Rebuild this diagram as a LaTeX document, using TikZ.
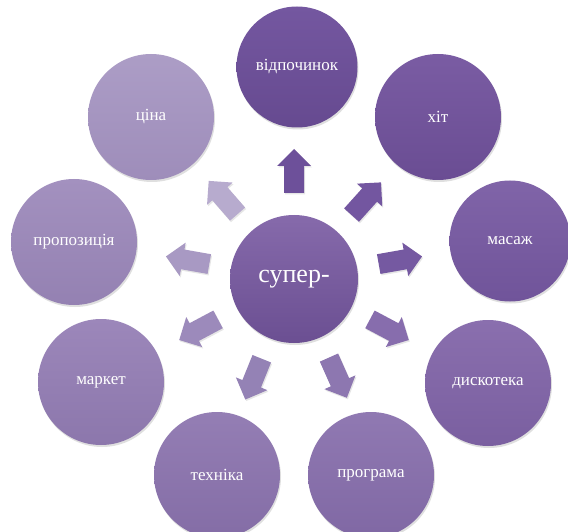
\documentclass[tikz,border=0pt]{standalone}
\usepackage{fontspec}
\setmainfont{Liberation Serif}
\usetikzlibrary{shadows}
\definecolor{cA}{HTML}{7457A0}
\definecolor{cAd}{HTML}{664A90}
\definecolor{cB}{HTML}{7A5CA3}
\definecolor{cBd}{HTML}{6A4D93}
\definecolor{cC}{HTML}{8064A8}
\definecolor{cCd}{HTML}{70549A}
\definecolor{cD}{HTML}{8A6FAE}
\definecolor{cDd}{HTML}{7A5FA0}
\definecolor{cE}{HTML}{9079B2}
\definecolor{cEd}{HTML}{8068A4}
\definecolor{cF}{HTML}{947EB4}
\definecolor{cFd}{HTML}{846DA6}
\definecolor{cG}{HTML}{9C87BA}
\definecolor{cGd}{HTML}{8C77AC}
\definecolor{cH}{HTML}{A391BF}
\definecolor{cHd}{HTML}{9481B2}
\definecolor{cI}{HTML}{AC9DC6}
\definecolor{cId}{HTML}{9E8DBA}
\definecolor{cM}{HTML}{866AAB}
\definecolor{cMd}{HTML}{6B4F92}
\tikzset{
  bubble/.style={circle, minimum size=126pt, inner sep=0pt, draw=none,
    drop shadow={opacity=0.25, shadow xshift=1pt, shadow yshift=-2pt},
    font=\fontsize{17}{20}\selectfont, text=white},
  hub/.style={bubble, minimum size=128pt, font=\fontsize{26}{31}\selectfont},
  blockarrow/.style={draw=none, drop shadow={opacity=0.2, shadow xshift=1pt, shadow yshift=-1.5pt}}
}
\begin{document}
\begin{tikzpicture}[x=1pt,y=-1pt]
\useasboundingbox (0,0) rectangle (568,532);
% hub
\node[hub, top color=cM, bottom color=cMd] (hub) at (294,279) {супер-};
% outer circles
\node[bubble, minimum size=121pt, top color=cA, bottom color=cAd] (vidp) at (297,67) {відпочинок};
\node[bubble, top color=cB, bottom color=cBd] (hit) at (438,117) {хіт};
\node[bubble, minimum size=121pt, top color=cC, bottom color=cCd] (masazh) at (510,241) {масаж};
\node[bubble, top color=cD, bottom color=cDd] (disko) at (488,383) {дискотека};
\node[bubble, top color=cE, bottom color=cEd] (prog) at (371,475) {програма};
\node[bubble, top color=cF, bottom color=cFd] (tekh) at (217,475) {техніка};
\node[bubble, top color=cG, bottom color=cGd] (market) at (101,382) {маркет};
\node[bubble, top color=cH, bottom color=cHd] (propoz) at (74,242) {пропозиція};
\node[bubble, top color=cI, bottom color=cId] (tsina) at (151,117) {ціна};
% block arrows from hub towards each circle
\foreach \ang/\col in {90/6D509A, 48/7356A0, 10/7559A1, -28/876DAD, -66/8D77B0, -112/9482B5, -152/9C8ABB, 170/A899C3, 131/B7ABCE}{
  \begin{scope}[shift={(hub.center)}, rotate=\ang]
    \definecolor{arr}{HTML}{\col}
    \fill[blockarrow, arr] (86,-10) -- (113,-10) -- (113,-17) -- (130,0) -- (113,17) -- (113,10) -- (86,10) -- cycle;
  \end{scope}
}
\end{tikzpicture}
\end{document}
